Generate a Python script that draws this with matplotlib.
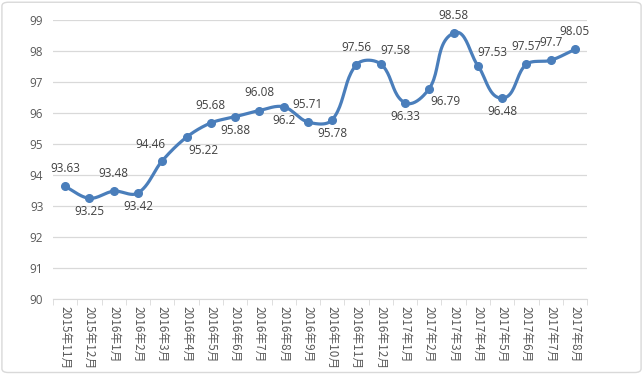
import numpy as np
import matplotlib
matplotlib.use('Agg')
import matplotlib.pyplot as plt
from matplotlib.patches import FancyBboxPatch

plt.rcParams['font.family'] = ['Noto Sans CJK SC', 'DejaVu Sans']

months = ['2015年11月', '2015年12月', '2016年1月', '2016年2月', '2016年3月', '2016年4月',
          '2016年5月', '2016年6月', '2016年7月', '2016年8月', '2016年9月', '2016年10月',
          '2016年11月', '2016年12月', '2017年1月', '2017年2月', '2017年3月', '2017年4月',
          '2017年5月', '2017年6月', '2017年7月', '2017年8月']
values = [93.63, 93.25, 93.48, 93.42, 94.46, 95.22, 95.68, 95.88, 96.08, 96.2, 95.71,
          95.78, 97.56, 97.58, 96.33, 96.79, 98.58, 97.53, 96.48, 97.57, 97.7, 98.05]
# label placement: a = above, b = below, ar = above right, br = below right, al = above left
label_pos = ['a', 'b', 'a', 'b', 'al', 'br', 'a', 'b', 'a', 'b', 'a', 'b',
             'a', 'ar', 'b', 'br', 'a', 'ar', 'b', 'a', 'a', 'a']

blue = '#4a7ebb'
txt = '#404040'

x = np.arange(len(values))
y = np.array(values)

# bezier smoothing in screen space (close to Excel's smoothed line)
def smooth(x, y, kx=24.2, ky=31.0, n=24):
    P = np.column_stack([x * kx, y * ky])
    N = len(P)
    T = np.zeros_like(P)
    for i in range(N):
        a, b = P[max(i - 1, 0)], P[min(i + 1, N - 1)]
        d = b - a
        T[i] = d / np.hypot(*d)
    pts = []
    t = np.linspace(0, 1, n, endpoint=False)[:, None]
    for i in range(N - 1):
        p0, p3 = P[i], P[i + 1]
        L = np.hypot(*(p3 - p0)) / 3
        p1 = p0 + T[i] * L
        p2 = p3 - T[i + 1] * L
        pts.append((1 - t) ** 3 * p0 + 3 * (1 - t) ** 2 * t * p1 + 3 * (1 - t) * t ** 2 * p2 + t ** 3 * p3)
    pts.append(P[-1:])
    pts = np.vstack(pts)
    return pts[:, 0] / kx, pts[:, 1] / ky

fig = plt.figure(figsize=(6.43, 3.74), dpi=100)
fig.patches.append(FancyBboxPatch((0.003, 0.004), 0.994, 0.99, boxstyle='round,pad=0,rounding_size=0.01',
                                  transform=fig.transFigure, fill=False, ec='#d9d9d9', lw=1))
ax = fig.add_axes([0.0825, 0.2005, 0.8305, 0.746])

sx, sy = smooth(x, y)
ax.plot(sx, sy, color=blue, lw=2.3, zorder=3, solid_capstyle='round')
ax.plot(x, y, 'o', color=blue, ms=5.5, zorder=4)

offs = {'a': (0, 8, 'center', 'bottom'), 'b': (0, -5, 'center', 'top'),
        'ar': (0, 5, 'left', 'bottom'), 'br': (1, -5, 'left', 'top'),
        'al': (2, 7, 'right', 'bottom')}
for xi, yi, p in zip(x, y, label_pos):
    dx, dy, ha, va = offs[p]
    ax.annotate(f'{yi:g}', (xi, yi), xytext=(dx, dy), textcoords='offset points',
                ha=ha, va=va, fontsize=8.5, color=txt, family='Open Sans')

ax.set_xlim(-0.5, len(values) - 0.5)
ax.set_ylim(90, 99)
ax.set_yticks(range(90, 100))
ax.grid(axis='y', color='#d9d9d9', lw=0.9)
ax.set_axisbelow(True)
for s in ['top', 'right', 'left']:
    ax.spines[s].set_visible(False)
ax.spines['bottom'].set_color('#d9d9d9')
ax.tick_params(axis='y', length=0, labelcolor='#595959', pad=7)
for lb in ax.get_yticklabels():
    lb.set_fontsize(8.5)
    lb.set_family('Open Sans')
ax.set_xticks(x)
ax.set_xticklabels(months, rotation=-90, fontsize=8.5, color='#595959', va='top')
ax.tick_params(axis='x', length=0, pad=5)
ax.set_xticks(np.arange(-0.5, len(values)), minor=True)
ax.tick_params(axis='x', which='minor', length=4, color='#d9d9d9')

fig.savefig('out.png', dpi=100)
